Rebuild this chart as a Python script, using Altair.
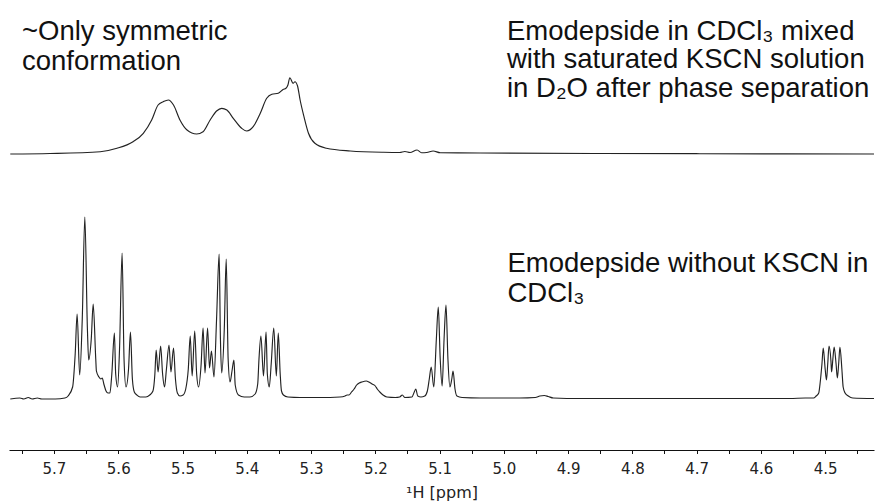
import altair as alt
import pandas as pd

# ---------------- data ----------------
# Lower spectrum: Emodepside without KSCN in CDCl3 (ppm, intensity a.u.)
lower_ppm = [5.768, 5.753, 5.747, 5.740, 5.734, 5.726, 5.719, 5.698, 5.683, 5.678,
             5.671, 5.667, 5.664, 5.660, 5.656, 5.652, 5.648, 5.646, 5.642, 5.639,
             5.635, 5.634, 5.630, 5.627, 5.625, 5.622, 5.619, 5.616, 5.613, 5.610,
             5.606, 5.604, 5.601, 5.598, 5.594, 5.591, 5.588, 5.584, 5.581, 5.578,
             5.575, 5.571, 5.566, 5.557, 5.551, 5.546, 5.543, 5.541, 5.538, 5.534,
             5.531, 5.528, 5.525, 5.521, 5.518, 5.514, 5.511, 5.508, 5.504, 5.499,
             5.495, 5.491, 5.488, 5.485, 5.481, 5.478, 5.475, 5.471, 5.468, 5.465,
             5.461, 5.458, 5.455, 5.451, 5.447, 5.443, 5.441, 5.439, 5.435, 5.432,
             5.429, 5.426, 5.423, 5.420, 5.418, 5.413, 5.404, 5.395, 5.387, 5.383,
             5.381, 5.378, 5.374, 5.370, 5.368, 5.365, 5.362, 5.358, 5.354, 5.351,
             5.348, 5.346, 5.343, 5.336, 5.317, 5.286, 5.255, 5.247, 5.244, 5.241,
             5.237, 5.233, 5.229, 5.225, 5.221, 5.214, 5.210, 5.205, 5.200, 5.197,
             5.193, 5.188, 5.182, 5.169, 5.162, 5.158, 5.154, 5.143, 5.140, 5.137,
             5.134, 5.129, 5.123, 5.119, 5.116, 5.113, 5.109, 5.105, 5.102, 5.099,
             5.096, 5.093, 5.090, 5.087, 5.084, 5.081, 5.079, 5.076, 5.073, 5.065,
             5.037, 4.975, 4.951, 4.944, 4.937, 4.931, 4.923, 4.881, 4.772, 4.663,
             4.555, 4.531, 4.518, 4.514, 4.510, 4.508, 4.505, 4.503, 4.500, 4.498,
             4.496, 4.494, 4.491, 4.490, 4.488, 4.486, 4.483, 4.481, 4.479, 4.477,
             4.474, 4.472, 4.469, 4.464, 4.457, 4.424]
lower_int = [0, 1, 0, 1.5, 0, 1, 0, 0, 1, 3,
             12, 45, 85, 24, 80, 182, 70, 39, 60, 95,
             40, 28, 22, 20, 21, 14, 8, 6, 6, 25,
             66, 25, 12, 50, 146, 40, 12, 30, 67, 20,
             7, 4, 2, 2, 4, 8, 25, 49, 27, 53,
             25, 12, 30, 54, 27, 51, 20, 6, 3, 4,
             10, 30, 63, 23, 68, 25, 12, 35, 71, 26,
             71, 31, 48, 22, 80, 145, 60, 26, 70, 140,
             40, 17, 28, 39, 14, 4, 2, 2, 5, 15,
             40, 63, 23, 67, 25, 12, 35, 71, 23, 66,
             25, 8, 4, 2, 1.5, 1.5, 2, 3, 4, 4,
             7, 10, 14, 16, 17, 18, 17, 15, 13, 10,
             7, 4, 2, 1.5, 2, 4, 1.5, 2, 6, 10,
             3, 2, 3, 8, 20, 32, 12, 60, 92, 40,
             13, 60, 94, 40, 12, 20, 28, 10, 3, 1.5,
             1, 1, 1.5, 3, 3.5, 2.5, 1, 0.5, 0.5, 0.5,
             0.5, 1, 1, 3, 6, 15, 35, 51, 30, 19,
             35, 53, 38, 27, 40, 52, 35, 21, 35, 52,
             30, 12, 6, 3, 1, 0.5]

# Upper spectrum: in CDCl3 mixed with saturated KSCN / D2O
upper_ppm = [5.768, 5.706, 5.628, 5.602, 5.577, 5.561, 5.548, 5.538, 5.530, 5.522,
             5.514, 5.504, 5.493, 5.478, 5.468, 5.457, 5.447, 5.439, 5.431, 5.421,
             5.408, 5.400, 5.390, 5.379, 5.369, 5.361, 5.351, 5.343, 5.339, 5.336,
             5.333, 5.328, 5.325, 5.321, 5.317, 5.311, 5.304, 5.294, 5.276, 5.239,
             5.187, 5.162, 5.154, 5.146, 5.135, 5.128, 5.120, 5.110, 5.099, 5.037,
             4.850, 4.695, 4.424]
upper_int = [0, 0.5, 2.3, 5.7, 12.3, 20.7, 34, 49, 52.3, 54,
             49, 34, 24, 20, 22.3, 34, 43, 45.7, 44, 35.7,
             25.7, 23, 27.3, 40.7, 55.7, 59.7, 60.7, 64.7, 65.7, 69,
             76.3, 70.7, 72.3, 68, 54, 37.3, 20.7, 10.7, 5.7, 3,
             1.7, 1.5, 2.5, 1.5, 4, 1.3, 1.5, 3, 1.3, 1,
             0.5, 0.3, 0]

tick_values = [5.75, 5.7, 5.65, 5.6, 5.55, 5.5, 5.45, 5.4, 5.35, 5.3, 5.25, 5.2,
               5.15, 5.1, 5.05, 5.0, 4.95, 4.9, 4.85, 4.8, 4.75, 4.7, 4.65, 4.6,
               4.55, 4.5, 4.45]

label_left = ["~Only symmetric", "conformation"]
label_upper = ["Emodepside in CDCl\u2083 mixed", "with saturated KSCN solution",
               "in D\u2082O after phase separation"]
label_lower = ["Emodepside without KSCN in", "CDCl\u2083"]
axis_title = "\u00b9H [ppm]"

# ---------------- chart ----------------
lower = pd.DataFrame({"ppm": lower_ppm, "intensity": lower_int})
upper = pd.DataFrame({"ppm": upper_ppm, "intensity": upper_int})

x_scale = alt.Scale(domain=[5.770, 4.424], nice=False, zero=False)
y_scale = alt.Scale(domain=[0, 450], nice=False, zero=False)
x_axis = alt.Axis(
    values=tick_values,
    labelExpr="(round(datum.value*100) % 10 == 0) ? format(datum.value, '.1f') : ''",
    title=axis_title, grid=False,
    domainColor="#111", tickColor="#111", tickSize=3.5, tickWidth=1,
    labelFont="DejaVu Sans", labelFontSize=15, labelColor="#222",
    labelBaseline="alphabetic", labelPadding=20, labelFlush=False,
    labelOverlap=False,
    titleFont="DejaVu Sans", titleFontSize=16, titleFontWeight="normal",
    titleColor="#222", titleBaseline="alphabetic", titleY=47,
)

def trace(df, offset):
    return (
        alt.Chart(df)
        .transform_calculate(level=f"datum.intensity + {offset}")
        .mark_line(color="#222", strokeWidth=1.15, interpolate="monotone")
        .encode(
            x=alt.X("ppm:Q", scale=x_scale, axis=x_axis),
            y=alt.Y("level:Q", scale=y_scale, axis=None),
            order=alt.Order("ppm:Q", sort="descending"),
        )
    )

one = pd.DataFrame({"k": [0]})
font = "Liberation Sans"

def label(lines, x, y, lh):
    return alt.Chart(one).mark_text(
        text=lines, align="left", baseline="alphabetic", font=font,
        fontSize=27.5, lineHeight=lh, color="#111",
    ).encode(x=alt.value(x), y=alt.value(y))

# x positions below are relative to the plot area, which starts 9 px in
chart = alt.layer(
    trace(lower, 51),
    trace(upper, 296),
    label(label_left, 13, 40, 30),
    label(label_upper, 498, 39.5, 28.8),
    label(label_lower, 498.5, 271.7, 30),
).properties(
    width=865, height=450,
    background="white",
    autosize=alt.AutoSizeParams(type="none"),
    padding={"left": 9, "right": 3, "top": 0, "bottom": 52},
).configure_view(strokeWidth=0, stroke="transparent")

chart.save("out.html", embed_options={"renderer": "svg", "actions": False})
